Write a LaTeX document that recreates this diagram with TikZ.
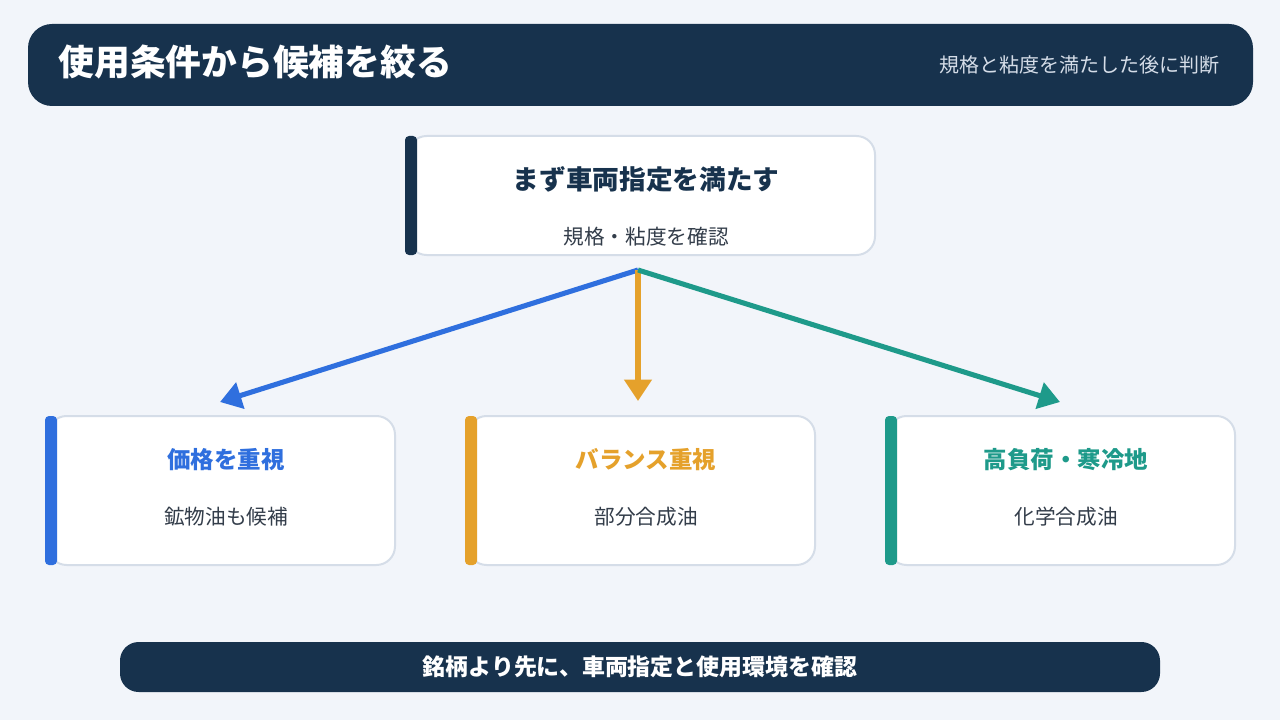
\documentclass[tikz,border=0pt]{standalone}
\usepackage{fontspec}
\setmainfont{Noto Sans CJK JP}
\usetikzlibrary{arrows.meta}
\definecolor{bg}{HTML}{F2F5FA}
\definecolor{navy}{HTML}{17324D}
\definecolor{bord}{HTML}{D5DDE8}
\definecolor{blue1}{HTML}{2F6FDE}
\definecolor{orng}{HTML}{E5A12B}
\definecolor{teal1}{HTML}{1E9A8A}
\definecolor{txt}{HTML}{333D4A}
\begin{document}
\begin{tikzpicture}[x=0.75pt,y=-0.75pt,
 card/.style={fill=white,draw=bord,line width=1.5pt,rounded corners=14pt},
 bar/.style={rounded corners=3pt},
 ttl/.style={font=\bfseries\fontsize{20}{23}\selectfont},
 sub/.style={font=\fontsize{15.5}{18}\selectfont,text=txt},
 arr/.style={line width=3.8pt,-{Triangle[length=16pt,width=20pt]}}]
\fill[bg] (0,0) rectangle (1280,720);
\useasboundingbox (0,0) rectangle (1280,720);
\fill[navy,rounded corners=18pt] (28,24) rectangle (1253,106);
\node[anchor=west,text=white,font=\bfseries\fontsize{26.8}{30}\selectfont] (title) at (54,62) {使用条件から候補を絞る};
\node[anchor=east,text=bord,font=\fontsize{15}{17}\selectfont] (subt) at (1224,65) {規格と粘度を満たした後に判断};
% top card
\draw[card] (408,136) rectangle (875,255);
\fill[navy,bar] (405,136) rectangle (417,255);
\node[ttl,text=navy] (t1) at (646,179) {まず車両指定を満たす};
\node[sub] (s1) at (646,237) {規格・粘度を確認};
\coordinate (src) at (638,270);
\coordinate (e1) at (220,402);
\coordinate (e2) at (638,401);
\coordinate (e3) at (1060,402);
\draw[arr,blue1] (src) -- (e1);
\draw[arr,orng] (src) -- (e2);
\draw[arr,teal1] (src) -- (e3);
% cards
\foreach \x/\c/\t/\s/\n in {45/blue1/価格を重視/鉱物油も候補/a,465/orng/バランス重視/部分合成油/b,885/teal1/高負荷・寒冷地/化学合成油/c}{
 \draw[card] (\x+3,416) rectangle (\x+350,565);
 \fill[\c,bar] (\x,416) rectangle (\x+12,565);
 \node[text=\c,font=\bfseries\fontsize{17.6}{20}\selectfont] (\n t) at (\x+181,460) {\t};
 \node[sub] (\n s) at (\x+181,517) {\s};
}
\fill[navy,rounded corners=14pt] (120,642) rectangle (1160,692);
\node[text=white,font=\bfseries\fontsize{17.2}{20}\selectfont] (foot) at (640,667) {銘柄より先に、車両指定と使用環境を確認};
\end{tikzpicture}
\end{document}
